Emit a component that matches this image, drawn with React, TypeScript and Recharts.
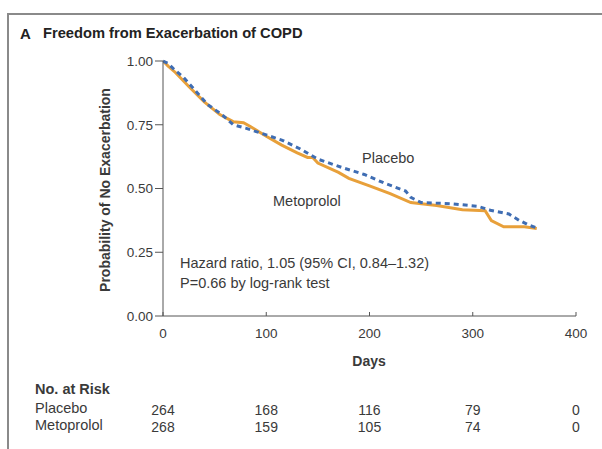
import React from "react";
import { LineChart, Line, XAxis, YAxis } from "recharts";

const placeboDays = [0, 5, 10, 20, 30, 43, 57, 68, 80, 100, 115, 133, 150, 175, 195, 215, 235, 240, 250, 280, 305, 317, 335, 345, 355, 362];
const placeboSurv = [1.0, 0.99, 0.97, 0.935, 0.89, 0.83, 0.79, 0.75, 0.737, 0.71, 0.69, 0.655, 0.615, 0.58, 0.555, 0.52, 0.49, 0.465, 0.445, 0.44, 0.43, 0.415, 0.4, 0.375, 0.355, 0.346];

const metoDays = [0, 5, 12, 25, 40, 55, 68, 78, 85, 100, 115, 130, 140, 145, 150, 170, 180, 200, 220, 240, 265, 290, 312, 318, 330, 350, 362];
const metoSurv = [1.0, 0.98, 0.955, 0.9, 0.84, 0.79, 0.762, 0.758, 0.742, 0.705, 0.67, 0.64, 0.622, 0.622, 0.6, 0.563, 0.54, 0.51, 0.48, 0.445, 0.433, 0.417, 0.413, 0.374, 0.35, 0.35, 0.343];

const xTicks = [0, 100, 200, 300, 400];
const yTicks = [0, 0.25, 0.5, 0.75, 1.0];
const riskDays = [0, 100, 200, 300, 400];
const placeboRisk = [264, 168, 116, 79, 0];
const metoRisk = [268, 159, 105, 74, 0];

const placeboData = placeboDays.map((d, i) => ({ day: d, p: placeboSurv[i] }));
const metoData = metoDays.map((d, i) => ({ day: d, p: metoSurv[i] }));

const FONT = "'Liberation Sans', Arial, sans-serif";
const TXT = "#3a3a3a";

const abs = (extra: React.CSSProperties): React.CSSProperties => ({
  position: "absolute",
  fontFamily: FONT,
  color: TXT,
  whiteSpace: "nowrap",
  lineHeight: 1,
  ...extra,
});

export default function App() {
  const tickStyle = { fontFamily: FONT, fontSize: 13.5, fill: TXT };
  const riskStyle = { fontFamily: FONT, fontSize: 14, fill: TXT };
  return (
    <div style={{ position: "absolute", left: 0, top: 0, width: 602, height: 449, background: "#fff", overflow: "hidden" }}>
      <div style={{ position: "absolute", left: 8, top: 13, width: 594, height: 2, background: "#8a8a8a" }} />
      <div style={{ position: "absolute", left: 7, top: 13, width: 2, height: 436, background: "#8a8a8a" }} />
      <div style={abs({ left: 20, top: 26, fontSize: 15, fontWeight: 700, color: "#222" })}>A</div>
      <div style={abs({ left: 43, top: 26, fontSize: 14.7, fontWeight: 700, color: "#222" })}>Freedom from Exacerbation of COPD</div>
      <LineChart
        width={602}
        height={449}
        margin={{ top: 61, right: 26, left: 103, bottom: 10 }}
        style={{ position: "absolute", left: 0, top: 0 }}
      >
        <XAxis
          xAxisId="main"
          type="number"
          dataKey="day"
          domain={[0, 400]}
          ticks={xTicks}
          allowDataOverflow
          height={89}
          tickSize={-4}
          tickMargin={16}
          stroke="#555"
          tick={tickStyle}
        />
        <XAxis
          xAxisId="riskA"
          type="number"
          dataKey="day"
          domain={[0, 400]}
          ticks={riskDays}
          allowDataOverflow
          height={17}
          axisLine={false}
          tickLine={false}
          tickSize={0}
          tickMargin={0}
          tick={riskStyle}
          tickFormatter={(v: number) => String(placeboRisk[riskDays.indexOf(v)])}
        />
        <XAxis
          xAxisId="riskB"
          type="number"
          dataKey="day"
          domain={[0, 400]}
          ticks={riskDays}
          allowDataOverflow
          height={17}
          axisLine={false}
          tickLine={false}
          tickSize={0}
          tickMargin={0}
          tick={riskStyle}
          tickFormatter={(v: number) => String(metoRisk[riskDays.indexOf(v)])}
        />
        <YAxis
          type="number"
          domain={[0, 1]}
          ticks={yTicks}
          width={60}
          tickSize={8}
          tickMargin={2}
          stroke="#555"
          tick={tickStyle}
          tickFormatter={(v: number) => v.toFixed(2)}
        />
        <Line
          xAxisId="main"
          data={metoData}
          dataKey="p"
          type="linear"
          stroke="#E8A03A"
          strokeWidth={3}
          dot={false}
          isAnimationActive={false}
        />
        <Line
          xAxisId="main"
          data={placeboData}
          dataKey="p"
          type="linear"
          stroke="#3F6DB3"
          strokeWidth={3}
          strokeDasharray="5 4"
          dot={false}
          isAnimationActive={false}
        />
      </LineChart>
      <div
        style={abs({
          left: 105,
          top: 190,
          fontSize: 14,
          fontWeight: 700,
          transform: "translate(-50%, -50%) rotate(-90deg)",
        })}
      >
        Probability of No Exacerbation
      </div>
      <div style={abs({ left: 362, top: 151, fontSize: 14.5 })}>Placebo</div>
      <div style={abs({ left: 273, top: 194, fontSize: 14.5 })}>Metoprolol</div>
      <div style={abs({ left: 180, top: 256, fontSize: 14.5 })}>Hazard ratio, 1.05 (95% CI, 0.84–1.32)</div>
      <div style={abs({ left: 180, top: 276, fontSize: 14.5 })}>P=0.66 by log-rank test</div>
      <div style={abs({ left: 369, top: 354, fontSize: 14, fontWeight: 700, transform: "translateX(-50%)" })}>Days</div>
      <div style={abs({ left: 35, top: 382, fontSize: 14.5, fontWeight: 700 })}>No. at Risk</div>
      <div style={abs({ left: 35, top: 401, fontSize: 14.5 })}>Placebo</div>
      <div style={abs({ left: 35, top: 418, fontSize: 14.5 })}>Metoprolol</div>
    </div>
  );
}
